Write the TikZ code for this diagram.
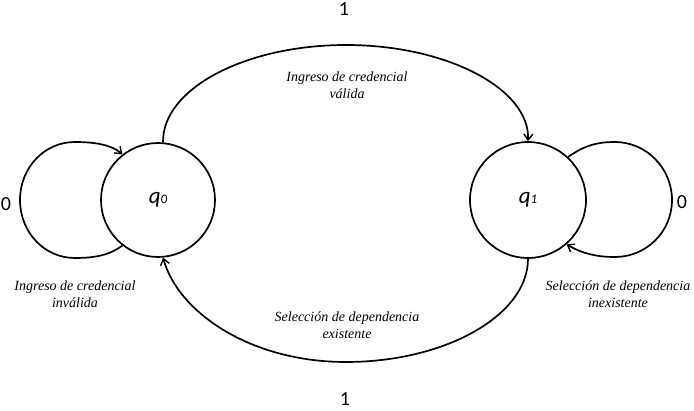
\documentclass[tikz,border=0pt]{standalone}
\usepackage{fontspec}
\setmainfont{Liberation Serif}
\newfontfamily\labelfont{Liberation Serif}
\newfontfamily\digitfont{Carlito}
\usetikzlibrary{arrows.meta}
\tikzset{
  state/.style={draw, circle, line width=1.7pt, inner sep=0pt, minimum size=114pt, font=\digitfont\itshape},
  edge/.style={line width=1.7pt, -{Straight Barb[length=6pt,width=9pt,line width=1.4pt]}},
  lbl/.style={align=center, inner sep=0pt, font=\labelfont\itshape\fontsize{14}{16.5}\selectfont},
  sym/.style={inner sep=0pt, font=\digitfont\fontsize{20}{20}\selectfont}
}
\begin{document}
\begin{tikzpicture}[x=1pt,y=-1pt]
\useasboundingbox (0,0) rectangle (694,411);
\node[state] (q0) at (158,200) {{\fontsize{23}{23}\selectfont q}{\fontsize{13}{13}\selectfont 0}};
\node[state, minimum size=116pt] (q1) at (528,200) {{\fontsize{23}{23}\selectfont q}{\fontsize{13}{13}\selectfont 1}};
% top arc
\coordinate (tp) at (346,45);
\draw[edge] (q0.85) .. controls (162,89) and (245,45) .. (tp) .. controls (447,45) and (530,89) .. (q1.90);
% bottom arc
\coordinate (bp) at (346,362);
\draw[edge] (q1.-90) .. controls (528,315) and (446,362) .. (bp) .. controls (250,362) and (178,312) .. (q0.-85);
% left loop
\coordinate (l1) at (75,258);
\coordinate (l2) at (20,200);
\coordinate (l3) at (75,142);
\draw[edge] (q0.232) .. controls (110,255) and (95,258) .. (l1) .. controls (44,258) and (20,232) .. (l2) .. controls (20,168) and (44,142) .. (l3) .. controls (95,142) and (112,145) .. (q0.128);
% right loop
\coordinate (r1) at (615,142);
\coordinate (r2) at (672,200);
\coordinate (r3) at (615,257);
\draw[edge] (q1.47) .. controls (585,145) and (598,142) .. (r1) .. controls (646,142) and (672,168) .. (r2) .. controls (672,232) and (646,257) .. (r3) .. controls (598,257) and (583,254) .. (q1.-49);
% labels
\node[lbl] (ltop) at (347,85) {Ingreso de credencial\\válida};
\node[lbl] (lbot) at (347,325) {Selección de dependencia\\existente};
\node[lbl] (lleft) at (75,294) {Ingreso de credencial\\inválida};
\node[lbl] (lright) at (618,294) {Selección de dependencia\\inexistente};
\node[sym] (s1) at (344,9) {1};
\node[sym] (s2) at (345,399) {1};
\node[sym] (s3) at (6,204) {0};
\node[sym] (s4) at (682,202) {0};
\end{tikzpicture}
\end{document}
